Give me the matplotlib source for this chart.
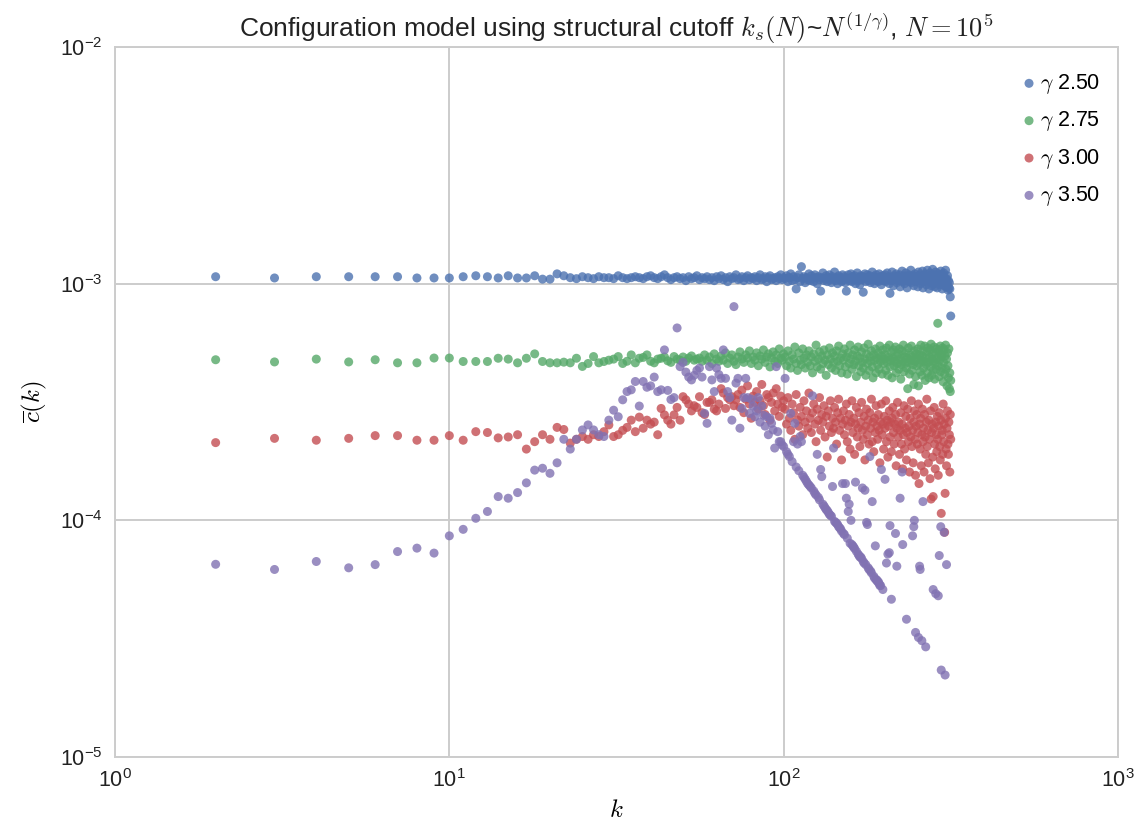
import numpy as np
import matplotlib
matplotlib.use("Agg")
import matplotlib.pyplot as plt

# ---------------- data (clustering values in units of 1e-4) ----------------
series_labels = [r"$\gamma$ 2.50", r"$\gamma$ 2.75", r"$\gamma$ 3.00", r"$\gamma$ 3.50"]
series_colors = ["#4C72B0", "#55A868", "#C44E52", "#8172B2"]

k_dense = list(range(2, 317))  # degrees k = 2 ... 316

c_g250 = [
    10.7, 10.57, 10.7, 10.7, 10.7, 10.7, 10.57, 10.57, 10.57, 10.7,
    10.8, 10.7, 10.57, 10.8, 10.57, 10.57, 10.8, 10.45, 10.45, 11.0,
    10.8, 10.6, 10.5, 10.7, 10.6, 10.5, 10.7, 10.6, 10.6, 10.5,
    10.8, 10.6, 10.5, 10.6, 10.7, 10.6, 10.5, 10.7, 10.8,
    10.6, 10.5, 10.7, 10.9, 10.6, 10.4, 10.6, 10.7, 10.5, 10.6,
    10.3, 10.7, 10.5, 10.6, 10.8, 10.4, 10.6, 10.5, 10.7, 10.4,
    10.6, 10.3, 10.7, 10.5, 10.8, 10.4, 10.6, 10.2, 10.7, 10.5,
    10.6, 10.9, 10.4, 10.5, 10.7, 10.3, 10.6, 10.8, 10.4, 10.6,
    10.5, 10.7, 10.3, 10.6, 10.9, 10.4, 10.5, 10.7, 10.2, 10.6,
    10.8, 10.4, 10.5, 10.6, 10.3, 10.7, 10.5, 10.9, 10.4, 10.6,
    10.5, 10.8, 10.2, 10.6, 11.0, 10.3, 10.7, 10.4, 9.5, 10.6,
    10.9, 10.2, 11.8, 10.5, 10.7, 10.1, 10.6, 10.4, 11.0, 10.3,
    10.8, 10.5, 10.2, 10.9, 10.6, 10.0, 10.7, 10.4, 9.3, 10.6,
    11.1, 10.3, 10.5, 10.8, 10.2, 10.6, 10.9, 10.4, 10.1, 10.7,
    10.5, 11.2, 10.3, 10.6, 10.0, 10.8, 10.4, 10.6, 10.2, 10.9,
    10.4, 10.7, 10.1, 9.3, 10.5, 10.9, 10.3, 10.6, 11.0, 10.2,
    10.7, 10.4, 10.8, 10.0, 10.5, 11.1, 10.3, 10.6, 9.9, 10.8,
    10.4, 10.7, 9.2, 10.5, 11.0, 10.2, 10.6, 10.9, 10.3, 10.5,
    10.8, 10.1, 10.6, 11.2, 10.4, 10.7, 10.0, 10.5, 10.9, 10.3,
    10.6, 10.2, 11.0, 10.4, 10.7, 9.9, 10.5, 10.8, 10.3, 10.6,
    10.9, 10.2, 10.5, 11.1, 10.4, 10.7, 10.0, 9.1, 10.6, 10.3,
    11.2, 10.5, 9.8, 10.8, 10.4, 10.6, 11.0, 10.1, 10.5, 10.7,
    10.3, 10.9, 9.7, 10.6, 10.4, 11.3, 10.2, 10.5, 10.8, 10.0,
    10.6, 11.1, 10.3, 9.6, 10.7, 10.4, 10.9, 10.2, 10.5, 11.4,
    10.1, 10.6, 10.3, 10.8, 9.8, 10.5, 11.0, 10.2, 10.7, 10.4,
    10.6, 9.7, 11.2, 10.3, 10.5, 10.9, 10.0, 10.7, 10.4, 11.3,
    9.6, 10.5, 10.8, 10.2, 11.0, 10.4, 9.9, 10.6, 11.4, 10.3,
    10.7, 9.5, 10.5, 11.1, 10.2, 10.8, 9.8, 10.4, 11.5, 10.6,
    10.0, 10.9, 9.7, 10.5, 11.2, 10.3, 10.7, 9.6, 10.4, 11.0,
    10.2, 10.8, 9.9, 10.6, 11.3, 10.1, 10.5, 9.5, 10.9, 10.3,
    11.1, 9.8, 10.6, 10.2, 11.4, 9.7, 10.5, 10.0, 10.8, 9.4,
    10.3, 9.6, 10.1, 9.5, 8.8, 7.3,
]

c_g275 = [
    4.77, 4.67, 4.8, 4.67, 4.77, 4.63, 4.63, 4.85, 4.85, 4.69,
    4.69, 4.69, 4.84, 4.8, 4.63, 4.84, 5.05, 4.69, 4.63, 4.63,
    4.66, 4.63, 4.84, 4.47, 4.6, 4.92, 4.63, 4.69, 4.75, 4.8,
    4.92, 4.6, 4.7, 5.0, 4.63, 4.84, 4.88, 5.0, 4.7, 4.63,
    4.8, 4.84, 4.9, 4.72, 4.65, 4.92, 4.8, 4.75, 4.9, 4.7,
    4.85, 4.95, 4.75, 4.8,
    4.85, 4.7, 5.0, 4.75, 4.9, 4.6, 5.05, 4.8, 4.7, 4.95,
    4.75, 5.1, 4.6, 4.85, 5.0, 4.7, 4.55, 4.9, 5.15, 4.8,
    4.65, 5.0, 4.85, 5.2, 4.6, 4.9, 4.75, 5.1, 4.5, 4.95,
    4.8, 5.25, 4.65, 4.9, 5.05, 4.45, 4.85, 5.15, 4.7, 5.0,
    4.6, 5.3, 4.85, 4.75, 5.05,
    4.9, 4.5, 5.2, 4.7, 4.4, 5.0, 4.8, 5.4, 4.6, 4.3,
    5.1, 4.75, 4.55, 5.3, 4.85, 4.4, 5.0, 4.65, 5.2, 4.5,
    4.9, 4.2, 5.05, 4.7, 5.5, 4.45, 4.8, 5.15, 4.35, 4.95,
    4.6, 5.25, 4.75, 4.1, 5.0, 4.55, 5.35, 4.8, 4.4, 5.1,
    4.65, 4.95, 4.3, 5.2, 4.7, 5.45, 4.5, 4.85, 4.2, 5.05,
    4.75, 5.3, 4.45, 4.9, 4.15, 5.1, 4.6, 5.5, 4.8, 4.35,
    5.0, 4.55, 5.25, 4.7, 4.05, 4.95, 5.4, 4.5, 4.85, 4.25,
    5.15, 4.65, 4.4, 5.35, 4.8, 4.1, 5.05, 4.6, 5.55, 4.3,
    4.9, 4.7, 5.2, 4.45, 4.0, 5.0, 4.75, 5.3, 4.2, 4.85,
    4.55, 5.1, 4.35, 5.45, 4.7, 4.95, 4.15, 5.25, 4.6, 4.8,
    5.0, 4.3, 5.35, 4.65, 4.1, 4.9, 5.5, 4.45, 4.75, 5.15,
    4.0, 4.85, 5.25, 4.5, 4.7, 5.4, 4.2, 4.95, 4.6, 5.05,
    4.35, 5.3, 4.8, 3.95, 4.55, 5.2, 4.7, 5.5, 4.25, 4.9,
    4.6, 5.1, 4.4, 4.85, 3.6, 5.35, 4.65, 4.15, 5.0, 4.75,
    5.45, 4.3, 4.9, 4.55, 3.75, 5.2, 4.7, 4.05, 5.05, 4.5,
    4.85, 5.3, 3.7, 4.6, 5.0, 4.25, 5.5, 4.75, 4.1, 4.95,
    5.2, 4.4, 4.7, 5.45, 3.9, 4.85, 4.55, 5.15, 4.2, 5.35,
    4.65, 4.0, 4.9, 5.25, 4.45, 5.55, 4.1, 4.8, 5.05, 4.3,
    4.7, 5.4, 3.95, 4.6, 5.1, 4.35, 5.3, 4.85, 6.8, 4.5,
    5.2, 4.05, 4.75, 5.45, 4.25, 4.9, 5.0, 4.4, 5.35, 3.85,
    4.65, 5.25, 4.15, 4.95, 5.5, 4.35, 4.8, 3.7, 5.1, 4.5,
    4.0, 5.3, 3.6, 4.2, 3.5, 3.9,
]

c_g300 = [
    2.13, 2.22, 2.18, 2.22, 2.28, 2.28, 2.18, 2.18, 2.28, 2.18,
    2.37, 2.35, 2.23, 2.25, 2.3, 2.0, 2.15, 2.3, 2.2, 2.47,
    2.42,
    2.12, 2.2, 2.26, 2.2, 2.3, 2.26, 2.37, 2.53, 2.26, 2.3,
    2.4, 2.47, 2.65, 2.37, 2.73, 2.45, 2.65, 2.55, 2.6, 2.3,
    2.97, 2.79, 2.65, 2.55, 2.79, 3.0, 2.65, 3.33, 3.23, 3.1,
    2.9, 3.05, 3.0, 3.33, 2.85, 2.8, 3.15, 3.15, 3.23, 2.95,
    2.9, 3.1, 3.6, 3.45, 2.97, 3.3, 3.23, 3.33, 3.05, 3.23,
    3.4, 3.0, 3.55, 2.85, 3.25, 3.7, 3.1, 2.7, 3.35, 3.15,
    3.5, 2.95, 3.2, 3.75, 3.05, 2.8, 3.4, 3.3, 2.65, 3.15,
    3.45, 2.9, 3.6, 3.1, 2.75, 3.35, 3.0, 3.2,
    2.95, 2.55, 3.3, 2.7, 2.4, 3.1, 2.85, 2.2, 3.4, 2.65,
    2.5, 3.0, 2.75, 2.3, 3.2, 2.6, 2.9, 2.45, 3.45, 2.7,
    2.35, 2.85, 3.1, 2.55, 2.15, 2.95, 2.65, 3.3, 2.4, 2.8,
    2.6, 3.05, 2.25, 2.75, 1.85, 2.9, 2.5, 3.2, 2.35, 2.7,
    2.45, 3.0, 2.6, 2.1, 2.85, 3.25, 2.4, 2.7, 1.8, 2.55,
    2.9, 2.3, 2.65, 3.1, 2.15, 2.5, 2.8, 2.0, 2.6, 3.2,
    2.35, 2.7, 1.9, 2.55, 3.0, 2.25, 2.45, 2.85, 2.05, 2.6,
    3.15, 2.4, 2.2, 2.75, 1.8, 2.5, 2.95, 2.3, 2.65, 2.1,
    2.85, 2.45, 3.25, 2.15, 2.6, 1.95, 2.7, 2.35, 3.05, 2.5,
    2.2, 2.8, 2.4, 1.75, 2.6, 3.1, 2.3, 2.55, 2.0, 2.75,
    2.45, 3.2, 2.15, 2.65, 1.85, 2.5, 2.9, 2.25, 2.6, 1.95,
    2.7, 3.0, 2.35, 2.1, 2.55, 2.8, 1.7, 2.45, 3.15, 2.25,
    2.6, 1.9, 2.4, 2.85, 2.1, 2.55, 1.65, 2.3, 3.05, 2.0,
    2.45, 2.75, 1.8, 2.35, 2.95, 2.15, 2.5, 1.6, 2.7, 2.25,
    3.2, 2.05, 2.4, 1.75, 2.6, 2.9, 2.2, 1.55, 2.5, 2.8,
    2.1, 2.35, 3.1, 1.43, 2.55, 2.0, 2.7, 1.7, 2.3, 2.95,
    2.15, 2.45, 1.6, 2.8, 2.25, 1.9, 2.6, 3.25, 2.05, 2.4,
    1.75, 2.65, 2.2, 1.5, 2.9, 1.23, 2.35, 2.55, 1.85, 1.26,
    2.45, 3.0, 2.1, 1.65, 2.6, 2.3, 1.95, 2.75, 2.2, 1.55,
    2.5, 2.85, 2.05, 1.8, 2.65, 1.07, 2.3, 2.4, 1.9, 3.1,
    2.15, 2.55, 0.89, 1.3, 2.7, 2.0, 1.7, 2.45, 2.9, 2.1,
    1.9, 2.6, 2.3, 1.6, 2.8, 2.2,
]

k_g350 = [
    2, 3, 4, 5, 6, 7, 8, 9, 10, 11, 12, 13, 14, 15, 16, 17, 18, 19, 20, 21,
    22, 23, 24, 25, 26, 27, 28, 29, 30, 31, 32, 33, 34, 35, 36, 37, 38, 39, 40, 41,
    42, 43, 44, 45, 46, 47, 48, 49, 50, 51, 52, 53, 54, 55, 56, 57, 58, 59, 60, 61,
    62, 63, 64, 65, 66, 67, 68, 69, 70, 71, 72, 73, 74, 75, 76, 77, 78, 79, 80, 81,
    82, 83, 84, 85, 86, 87, 88, 89, 90, 91, 92, 93, 94, 95, 96, 97, 98, 99, 100,
    101, 102, 103, 104, 105, 106, 107, 108, 109, 110, 111, 112, 113, 114, 115, 116,
    117, 118, 119, 120, 121, 122, 123, 124, 125, 126, 127, 128, 129, 130, 131, 132,
    133, 134, 135, 136, 137, 138, 139, 140, 141, 142, 143, 144, 145, 146, 147, 148,
    149, 150, 151, 152, 153, 154, 155, 156, 157, 158, 159, 160, 161, 162, 163, 164,
    165, 167, 168, 169, 170, 171, 172, 173, 174, 175, 176, 177, 178, 179, 180, 181,
    182, 183, 184, 186, 187, 188, 189, 190, 191, 192, 193, 194, 195, 196, 198,
    201, 203, 205, 207, 208, 210, 216, 218, 223, 226, 227, 233, 243, 245, 246, 248,
    253, 255, 256, 259, 261, 266, 280, 285, 290, 292, 295, 296, 302, 304, 307,
]

c_g350 = [
    0.652, 0.62, 0.67, 0.63, 0.65, 0.738, 0.763, 0.727, 0.86, 0.916,
    1.02, 1.09, 1.26, 1.24, 1.31, 1.44, 1.63, 1.66, 1.58, 1.75,
    2.2, 2.0, 2.2, 2.41, 2.53, 2.41, 2.3, 2.26, 2.65, 2.92,
    2.74, 3.23, 3.5, 3.56, 3.86, 3.04, 3.86, 3.65, 3.7, 4.03,
    3.5, 3.56, 5.25, 3.54, 3.24, 3.3, 6.5, 4.46, 4.65, 4.23,
    4.03, 3.92, 4.1, 4.3, 4.4, 4.03, 2.83, 2.57, 4.46, 3.92,
    3.5, 4.4, 4.13, 3.98, 5.25, 3.98, 3.5, 3.3, 2.65, 8.0,
    3.8, 3.98, 2.45, 2.97, 3.3, 3.98, 3.3, 2.83, 3.25, 3.04,
    2.74, 2.9, 3.3, 2.6, 3.04, 2.78, 2.5, 2.74, 2.3, 2.7,
    2.57, 2.41, 2.02, 4.46, 2.37, 2.15, 2.15, 2.08, 2.05,
    3.98, 1.95, 1.9, 1.86, 2.83, 1.77, 2.15, 2.57, 1.68, 2.1,
    1.62, 2.26, 2.15, 1.55, 1.52, 1.49,
    1.46, 1.43, 1.41, 1.39, 1.37, 3.36, 1.33, 1.3, 1.28, 1.9,
    1.25, 1.22, 1.64, 1.53, 1.17, 1.15,
    1.13, 1.11, 1.1, 1.08, 1.06, 1.05, 1.04, 1.39, 2.02, 0.99,
    0.98, 0.97, 0.96, 0.94, 0.93, 0.92,
    0.9, 1.43, 0.88, 0.87, 1.43, 1.24, 0.84, 1.09, 1.17, 0.8,
    1.0, 0.79, 0.78, 0.77, 0.76, 1.45,
    0.74, 0.72, 0.71, 0.7, 0.7, 0.69, 1.37, 0.67, 0.66, 1.34,
    0.65, 0.98, 0.96, 0.63, 0.62, 1.86,
    0.61, 0.6, 1.2, 0.58, 0.57, 0.78, 0.56, 0.56, 0.55, 0.55,
    0.54, 0.53, 0.53, 1.64, 0.51,
    1.49, 0.66, 0.72, 0.73, 0.95, 0.464, 0.88, 0.64, 1.24, 1.6,
    0.79, 0.382, 0.86, 0.94, 1.0, 0.336,
    0.32, 0.64, 0.62, 0.31, 1.2, 0.292, 0.51, 0.49, 0.48, 0.71,
    0.94, 0.233, 0.89, 0.222, 0.65,
]

series_k = [k_dense, k_dense, k_dense, k_g350]
series_c = [c_g250, c_g275, c_g300, c_g350]

x_ticks = [1, 10, 100, 1000]
y_ticks = [1e-5, 1e-4, 1e-3, 1e-2]

# ---------------- style ----------------
plt.rcParams['font.family'] = ['Liberation Sans', 'DejaVu Sans']
plt.rcParams['mathtext.fontset'] = 'cm'

fig = plt.figure(figsize=(11.4, 8.31), dpi=100)
ax = fig.add_axes([115 / 1140, 1 - 757 / 831, (1118 - 115) / 1140, (757 - 47) / 831])
ax.set_facecolor('white')

for k, c, lab, col in zip(series_k, series_c, series_labels, series_colors):
    ax.scatter(np.array(k), np.array(c) * 1e-4, s=42, color=col, alpha=0.8,
               edgecolors='none', label=lab, zorder=3)

ax.set_xscale('log')
ax.set_yscale('log')
ax.set_xlim(1, 1000)
ax.set_ylim(1e-5, 1e-2)
ax.set_xticks(x_ticks)
ax.set_yticks(y_ticks)
ax.minorticks_off()
ax.grid(True, which='major', color='#cccccc', linewidth=1.4, zorder=0)
ax.set_axisbelow(True)
for sp in ax.spines.values():
    sp.set_color('#cccccc')
    sp.set_linewidth(1.4)
ax.tick_params(axis='both', which='both', length=0, labelsize=15.5, colors='#222222', pad=9)

ax.set_xlabel(r"$k$", fontsize=18, labelpad=4)
ax.set_ylabel(r"$\overline{c}(k)$", fontsize=18, labelpad=8)
ax.set_title(r"Configuration model using structural cutoff $k_s(N)$~$N^{(1/\gamma)}$, $N=10^5$",
             fontsize=19, color='#222222', pad=7)

leg = ax.legend(loc='upper right', bbox_to_anchor=(1.0 + 10 / 1003, 1.0 + 3 / 710),
                frameon=False, scatterpoints=1, fontsize=15.5,
                handlelength=0.3, handletextpad=0.35, labelspacing=0.62,
                borderaxespad=0.9)

fig.savefig('out.png', dpi=100, facecolor='white')
